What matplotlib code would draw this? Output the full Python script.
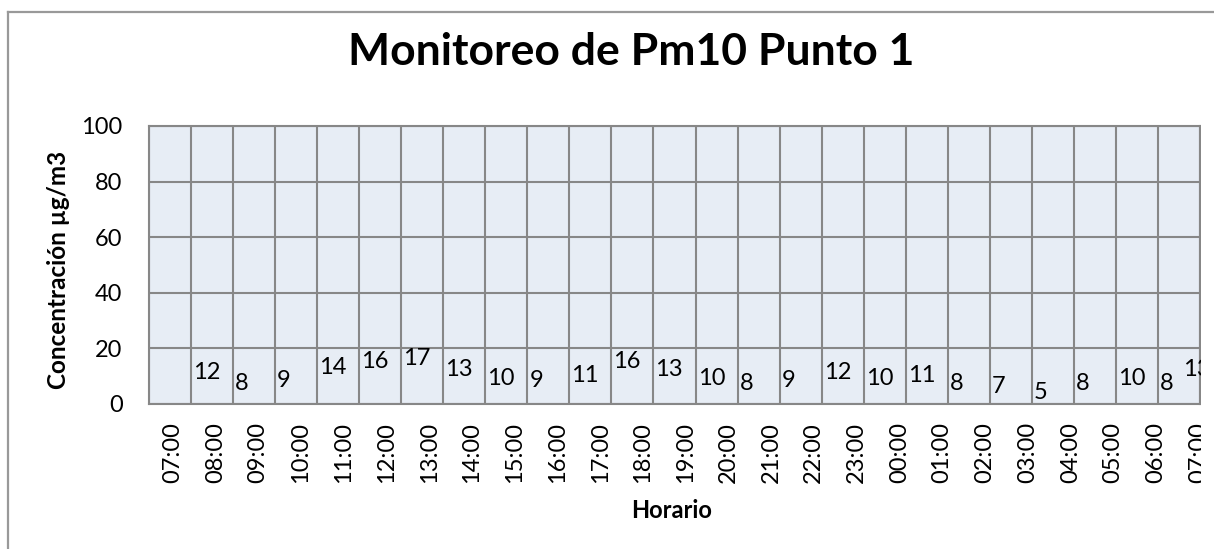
import matplotlib
matplotlib.use("Agg")
import matplotlib.pyplot as plt
from matplotlib.lines import Line2D
from matplotlib.patches import Rectangle

# ---- data ----
horas = ["07:00", "08:00", "09:00", "10:00", "11:00", "12:00", "13:00", "14:00",
         "15:00", "16:00", "17:00", "18:00", "19:00", "20:00", "21:00", "22:00",
         "23:00", "00:00", "01:00", "02:00", "03:00", "04:00", "05:00", "06:00",
         "07:00"]
pm10 = [None, 12, 8, 9, 14, 16, 17, 13, 10, 9, 11, 16, 13, 10, 8, 9, 12, 10, 11,
        8, 7, 5, 8, 10, 8, 13]
y_ticks = [0, 20, 40, 60, 80, 100]
titulo = "Monitoreo de Pm10 Punto 1"
y_label = "Concentración µg/m3"
x_label = "Horario"

# ---- style ----
W, H = 1214, 549
plt.rcParams['font.family'] = ['Lato', 'DejaVu Sans']
grid_c = '#878787'
face_c = '#E7EDF5'
fs = 17

fig = plt.figure(figsize=(W / 100, H / 100), dpi=100)
L, R, T, B = 149, 1200, 126, 404
ax = fig.add_axes([L / W, 1 - B / H, (R - L) / W, (B - T) / H])
ax.set_facecolor(face_c)
ncells = len(horas)
ax.set_xlim(0, ncells)
ax.set_ylim(0, 100)
cell_px = (R - L) / ncells

# gridlines on cell boundaries
ax.set_xticks(range(ncells + 1))
ax.set_xticklabels([])
ax.set_yticks(y_ticks)
ax.set_yticklabels([str(v) for v in y_ticks])
# category labels (slightly wider spacing as in reference)
step = 42.75 / cell_px
x0 = 0.5 + 2.5 / cell_px
ax.set_xticks([x0 + i * step for i in range(ncells)], horas, minor=True)
ax.tick_params(axis='x', which='both', length=0, pad=13, labelsize=fs,
               labelrotation=90)
ax.tick_params(axis='y', length=0, pad=19, labelsize=fs)
for lbl in ax.get_xticklabels(minor=True):
    lbl.set_verticalalignment('top')
ax.grid(which='major', color=grid_c, lw=1.5)
ax.set_axisbelow(True)
for s in ax.spines.values():
    s.set_color(grid_c)
    s.set_linewidth(1.5)

# data labels
for i, v in enumerate(pm10):
    if v is None:
        continue
    dx = 2 if i < ncells else -17
    ax.annotate(str(v), xy=(i, v), xytext=(dx, -2), textcoords='offset pixels',
                ha='left', va='center', fontsize=fs, annotation_clip=False)

# texts
fig.text(631 / W, 1 - 65 / H, titulo, ha='center', va='baseline',
         fontsize=32, fontweight='bold')
fig.text(672 / W, 1 - 518 / H, x_label, ha='center', va='baseline',
         fontsize=17, fontweight='bold')
fig.text(59 / W, 1 - 270 / H, y_label, ha='center', va='center', rotation=90,
         fontsize=17.5, fontweight='bold')

# crop on the right like the reference
fig.add_artist(Rectangle((1201.2 / W, 0), (W - 1201.2) / W, (H - 14) / H,
                         transform=fig.transFigure, facecolor='white',
                         edgecolor='none', zorder=10))
# outer chart frame
fig.add_artist(Line2D([8 / W, 1], [1 - 12 / H, 1 - 12 / H],
                      transform=fig.transFigure, color='#999999', lw=1.6))
fig.add_artist(Line2D([8 / W, 8 / W], [1 - 12 / H, 0],
                      transform=fig.transFigure, color='#999999', lw=1.6))

fig.savefig("out.png", dpi=100)
